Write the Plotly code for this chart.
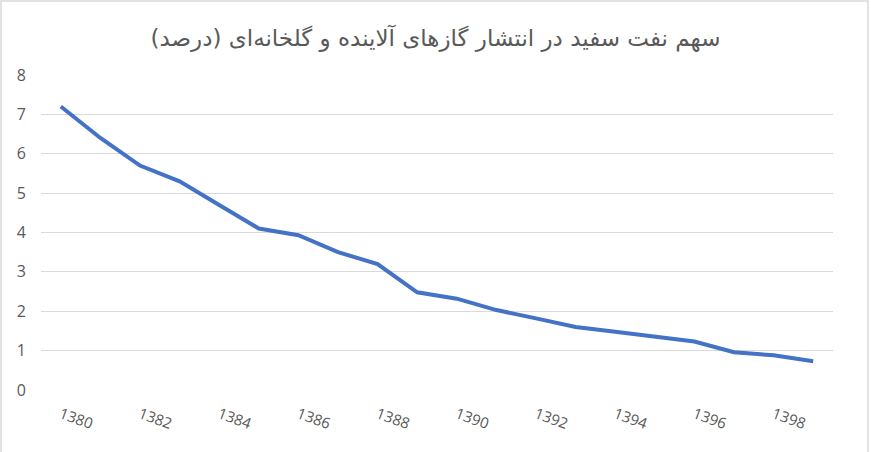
import plotly.graph_objects as go

# سال‌ها و سهم نفت سفید (درصد)
years = [str(y) for y in range(1380, 1400)]
share = [7.2, 6.4, 5.7, 5.3, 4.7, 4.1, 3.93, 3.5, 3.2, 2.48,
         2.32, 2.03, 1.82, 1.6, 1.48, 1.35, 1.23, 0.96, 0.88, 0.73]
tick_years = years[::2]
title_text = "سهم نفت سفید در انتشار گازهای آلاینده و گلخانه‌ای (درصد)"

W, H = 871, 452
L, R, T, B = 41, 38, 75, 62

fig = go.Figure()
fig.add_trace(go.Scatter(
    x=years, y=share, mode="lines",
    line=dict(color="#4472C4", width=4),
    hoverinfo="x+y",
))

fig.update_layout(
    width=W, height=H,
    margin=dict(l=L, r=R, t=T, b=B),
    paper_bgcolor="white", plot_bgcolor="white",
    showlegend=False,
    font=dict(family="Open Sans, DejaVu Sans, sans-serif", color="#595959", size=15),
    title=dict(text=title_text, x=0.5, xanchor="center", y=1 - 38 / H, yanchor="middle",
               font=dict(size=23, color="#595959", family="DejaVu Sans, Noto Sans, sans-serif")),
)

fig.update_yaxes(
    range=[0, 8], dtick=1, showgrid=True, gridcolor="#d9d9d9", gridwidth=1.3,
    zeroline=False, showline=False, ticks="", ticklabelstandoff=14,
    tickfont=dict(size=16, color="#595959"),
)
fig.update_xaxes(
    type="category", range=[-0.5, 19.5], tickvals=tick_years, ticktext=tick_years,
    tickangle=20, showgrid=False, showline=False, zeroline=False, ticks="",
    ticklabelstandoff=12, tickfont=dict(size=15, color="#595959"),
)

# کادر دور نمودار
pw, ph = W - L - R, H - T - B
fig.add_shape(type="rect", xref="paper", yref="paper",
              x0=(1 - L) / pw, x1=(W - 3 - L) / pw,
              y0=(B - (H - 3)) / ph, y1=(H - 1 - B) / ph,
              line=dict(color="#d9d9d9", width=1.5), fillcolor="rgba(0,0,0,0)")

fig.write_html("out.html", config={"displayModeBar": False},
               post_script="document.body.style.margin='0';")
